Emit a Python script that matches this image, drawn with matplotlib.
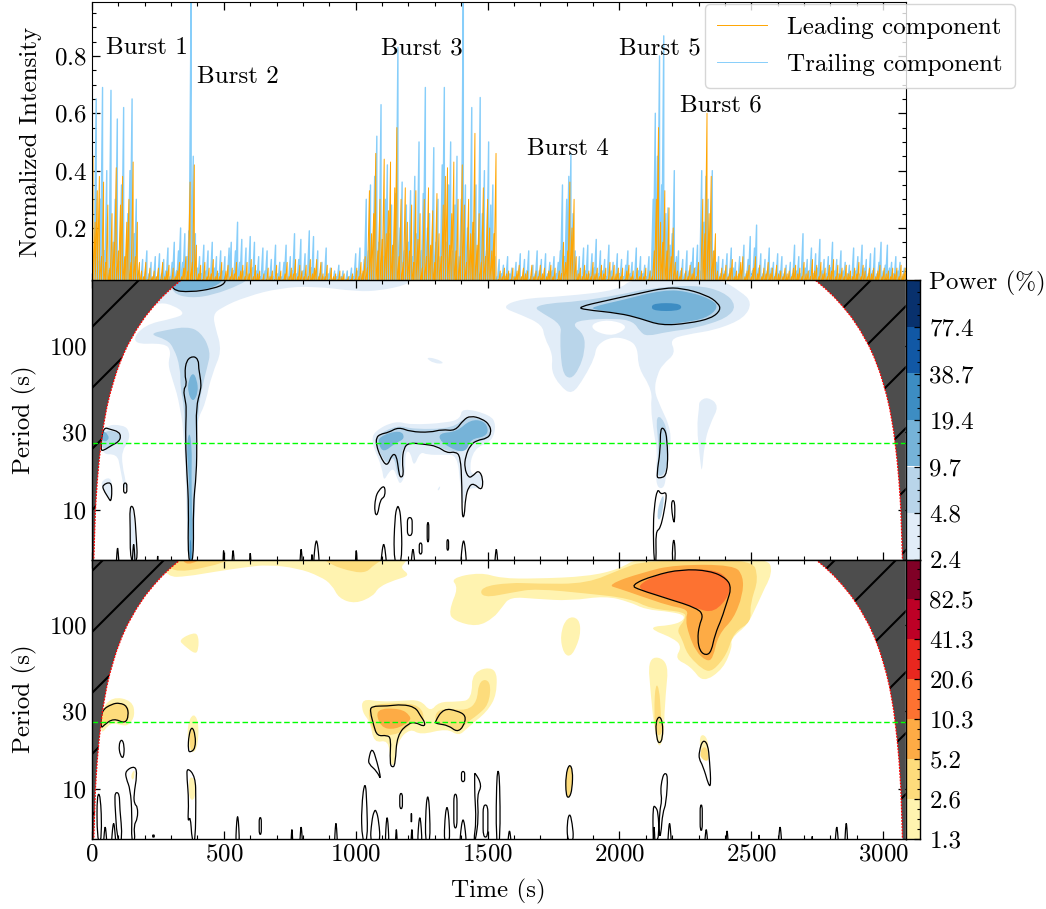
import numpy as np
import matplotlib
matplotlib.use("Agg")
import matplotlib.pyplot as plt
from matplotlib.lines import Line2D
from matplotlib.path import Path
from matplotlib.patches import PathPatch
from matplotlib.ticker import MultipleLocator, AutoMinorLocator, NullLocator

plt.rcParams["font.family"] = ["cmr10", "DejaVu Serif"]
plt.rcParams["axes.formatter.use_mathtext"] = True
plt.rcParams["font.size"] = 18
plt.rcParams["axes.unicode_minus"] = False

# light curves, one value every 8 s
trailing = [
    .65, .10, .65, .08, .30, .69, .12, .40, .05, .68,
    .15, .30, .58, .08, .35, .62, .10, .25, .40, .65,
    .18, .30, .05, .02, .09, .03, .12, .04, .08, .03,
    .10, .03, .11, .04, .09, .05, .13, .03, .08, .15,
    .05, .12, .20, .08, .18, .10, .19, 1.05, .45, .18,
    .06, .10, .04, .14, .05, .12, .03, .15, .06, .10,
    .04, .12, .05, .10, .03, .13, .15, .05, .12, .22,
    .08, .16, .05, .13, .04, .17, .06, .15, .05, .10,
    .03, .13, .05, .12, .03, .09, .03, .14, .04, .08,
    .03, .08, .14, .03, .10, .05, .18, .04, .09, .16,
    .05, .11, .04, .19, .06, .17, .05, .12, .04, .08,
    .03, .13, .04, .06, .02, .05, .03, .07, .03, .05,
    .02, .05, .03, .06, .03, .11, .05, .13, .04, .09,
    .30, .12, .35, .05, .38, .52, .15, .63, .10, .30,
    .42, .18, .28, .10, .32, .83, .20, .36, .12, .28,
    .15, .33, .10, .38, .18, .50, .12, .32, .69, .20,
    .25, .12, .48, .15, .30, .10, .42, .69, .15, .35,
    .50, .12, .28, .45, .10, .30, 1.05, .35, .20, .12,
    .62, .18, .35, .10, .655, .25, .40, .12, .50, .28,
    .35, .10, .03, .09, .04, .07, .03, .10, .04, .06,
    .03, .08, .04, .11, .03, .09, .05, .12, .03, .07,
    .04, .12, .05, .09, .03, .11, .04, .08, .05, .10,
    .04, .08, .12, .35, .10, .30, .38, .46, .25, .12,
    .05, .10, .03, .13, .05, .14, .04, .11, .06, .16,
    .04, .12, .05, .09, .03, .14, .05, .08, .03, .11,
    .04, .09, .03, .07, .12, .04, .08, .03, .13, .05,
    .10, .04, .07, .03, .10, .05, .30, .60, .45, .80,
    .35, .87, .25, .27, .14, .18, .40, .10, .12, .05,
    .09, .04, .12, .05, .08, .13, .06, .14, .05, .40,
    .22, .38, .30, .15, .40, .12, .08, .10, .04, .09,
    .05, .11, .04, .13, .06, .08, .03, .10, .05, .14,
    .04, .09, .17, .05, .13, .21, .06, .11, .04, .09,
    .05, .13, .06, .08, .04, .11, .05, .10, .04, .07,
    .03, .08, .04, .14, .05, .10, .04, .18, .06, .09,
    .05, .13, .04, .11, .06, .16, .05, .09, .04, .10,
    .06, .15, .05, .09, .04, .12, .05, .08, .04, .07,
    .03, .13, .05, .10, .04, .14, .06, .09, .04, .11,
    .05, .13, .04, .08, .15, .05, .07, .14, .06, .08,
    .04, .10, .05, .08, .03, .06,
]
leading = [
    .45, .22, .33, .38, .10, .36, .08, .28, .06, .25,
    .15, .41, .12, .28, .38, .10, .22, .30, .08, .43,
    .10, .22, .08, .05, .03, .08, .02, .06, .03, .05,
    .03, .06, .02, .08, .03, .05, .07, .02, .06, .03,
    .05, .08, .03, .06, .10, .05, .36, .08, .42, .14,
    .04, .07, .02, .08, .03, .06, .04, .09, .03, .05,
    .03, .08, .02, .05, .07, .03, .06, .04, .08, .03,
    .05, .07, .03, .08, .04, .09, .03, .07, .04, .05,
    .02, .04, .02, .06, .03, .05, .02, .07, .03, .05,
    .02, .04, .08, .03, .06, .04, .09, .03, .07, .05,
    .03, .07, .03, .09, .04, .06, .09, .03, .08, .04,
    .03, .07, .02, .06, .03, .04, .02, .05, .03, .04,
    .02, .03, .02, .04, .02, .06, .03, .08, .05, .10,
    .06, .33, .18, .25, .46, .12, .30, .16, .44, .18,
    .26, .43, .14, .34, .55, .10, .30, .08, .34, .22,
    .12, .28, .08, .33, .16, .25, .06, .30, .10, .34,
    .14, .26, .08, .32, .18, .10, .28, .38, .41, .14,
    .25, .43, .12, .30, .10, .42, .28, .08, .30, .18,
    .22, .53, .14, .25, .08, .34, .10, .30, .20, .12,
    .18, .46, .02, .05, .03, .06, .04, .05, .02, .06,
    .03, .05, .07, .03, .06, .04, .05, .02, .07, .03,
    .05, .03, .07, .04, .06, .03, .05, .07, .03, .06,
    .02, .05, .04, .15, .08, .12, .36, .20, .30, .10,
    .04, .06, .03, .07, .04, .05, .03, .08, .04, .06,
    .03, .07, .04, .06, .02, .08, .03, .07, .04, .06,
    .03, .06, .02, .05, .07, .03, .05, .02, .06, .03,
    .05, .03, .06, .02, .05, .03, .12, .30, .55, .22,
    .15, .33, .12, .27, .10, .20, .08, .05, .03, .06,
    .02, .05, .03, .07, .04, .06, .03, .08, .02, .30,
    .18, .60, .25, .38, .12, .18, .05, .03, .06, .04,
    .07, .03, .06, .09, .03, .05, .04, .08, .10, .03,
    .05, .07, .03, .06, .10, .04, .07, .03, .06, .04,
    .08, .04, .06, .03, .07, .04, .05, .03, .06, .04,
    .05, .03, .06, .07, .04, .06, .03, .08, .04, .05,
    .03, .09, .05, .07, .03, .08, .04, .06, .03, .07,
    .05, .09, .03, .07, .04, .06, .03, .07, .04, .05,
    .03, .06, .04, .08, .03, .07, .05, .03, .06, .04,
    .06, .03, .05, .07, .03, .06, .04, .05, .03, .06,
    .04, .06, .03, .07, .04, .06,
]

burst_names = ["Burst 1", "Burst 2", "Burst 3", "Burst 4", "Burst 5", "Burst 6"]
burst_t = [53, 398, 1096, 1650, 1998, 2230]
burst_y = [0.827, 0.727, 0.827, 0.477, 0.827, 0.627]

# cone of influence
coi_period = [250, 225, 200, 175, 150, 125, 100, 85, 70, 60, 50, 42, 35, 30, 25, 20, 15, 12, 10, 8, 6.5, 5]
coi_left = [336, 302, 268, 235, 201, 168, 134, 114, 94, 81, 67, 56, 47, 40, 34, 27, 20, 16, 13, 11, 9, 7]
coi_right = [2744, 2778, 2812, 2845, 2879, 2912, 2946, 2966, 2986, 2999, 3013, 3024, 3033, 3040, 3046, 3053,
             3060, 3064, 3067, 3069, 3071, 3073]
period_mark = 25.6

blue_levels = ["2.4", "4.8", "9.7", "19.4", "38.7", "77.4", "Power (%)"]
blue_colors = ["#e2edf8", "#b9d5ea", "#76b3d8", "#3d8dc3", "#1158a5", "#08316d"]
warm_levels = ["1.3", "2.6", "5.2", "10.3", "20.6", "41.3", "82.5", ""]
warm_colors = ["#fff3b0", "#fddc7c", "#fdab45", "#fd7231", "#e9271f", "#bd0026", "#800026"]

# power contours of the two wavelet panels, (time, period)
blue_1 = [
    [(246, 260), (1220, 260), (1194, 235), (1093, 217), (1005, 214), (841, 231), (714, 225), (588, 200), (487, 170),
     (459, 154), (468, 128), (493, 92), (455, 67), (430, 44), (398, 35), (398, 23.8), (392, 13), (388, 4.8),
     (363, 4.8), (358, 10.2), (350, 26), (335, 42), (307, 61), (287, 77), (300, 92), (278, 104), (145, 102),
     (196, 134), (310, 147), (354, 157), (310, 176), (259, 184), (221, 170)],
    [(44, 33), (120, 33), (143, 30), (139, 26), (114, 23), (114, 18.8), (133, 13.6), (120, 13.6), (107, 18),
     (95, 22), (32, 21.7)],
    [(32, 14.9), (70, 16), (78, 13.6), (72, 11.3), (44, 13)],
    [(1068, 30), (1150, 35), (1207, 33), (1346, 34), (1397, 36), (1403, 42), (1510, 38), (1533, 33), (1517, 26),
     (1447, 23.8), (1428, 16.3), (1479, 17), (1485, 13.6), (1416, 13.6), (1409, 10.2), (1397, 13.6), (1384, 21.7),
     (1333, 21.7), (1270, 21.7), (1245, 22.7), (1220, 18), (1207, 22.7), (1188, 22.7), (1188, 16.3), (1169, 14.2),
     (1157, 15.6), (1144, 18), (1125, 17), (1106, 14.9), (1100, 18), (1074, 22.7), (1062, 26)],
    [(1264, 85), (1302, 84), (1340, 78), (1296, 78)],
    [(1308, 13.2), (1321, 14.2), (1318, 13.2)],
    [(1550, 172), (1629, 194), (1788, 200), (1999, 218), (2052, 260), (2368, 260), (2461, 214), (2503, 183),
     (2474, 147), (2368, 125), (2250, 117), (2190, 109), (2214, 90), (2164, 77), (2144, 67), (2131, 53), (2157, 42),
     (2197, 30), (2190, 22.7), (2177, 16.3), (2170, 13.6), (2144, 13.6), (2137, 16.3), (2144, 22.7), (2131, 28.7),
     (2118, 42), (2125, 53), (2071, 73), (2069, 97), (2038, 109), (1972, 114), (1913, 101), (1906, 84), (1867, 64),
     (1821, 50), (1774, 57), (1741, 70), (1748, 88), (1715, 112), (1708, 134), (1629, 154)],
    [(2302, 46), (2335, 49), (2379, 43), (2342, 33), (2322, 25), (2313, 16.3), (2305, 20.6), (2293, 31.5), (2302, 42)],
    [(145, 10.2), (152, 10.6), (164, 7.7), (171, 4.8), (148, 4.8)],
]
blue_gap = [(1891, 136), (1959, 145), (2038, 132), (1979, 114), (1906, 122)]
blue_2 = [
    [(297, 260), (600, 260), (562, 235), (461, 204), (373, 195), (303, 209)],
    [(215, 118), (284, 125), (360, 131), (411, 122), (451, 92), (436, 73), (417, 55), (404, 42), (398, 26), (392, 16.3),
     (386, 4.8), (363, 4.8), (360, 16.3), (350, 28.7), (350, 42), (335, 55), (335, 73), (310, 97), (284, 109)],
    [(44, 31), (107, 29.5), (110, 27.3), (82, 24.4), (32, 23)],
    [(1074, 28), (1157, 33), (1220, 31), (1371, 31.5), (1416, 37), (1498, 35.5), (1517, 30), (1498, 26.6), (1435, 26),
     (1409, 22.7), (1346, 22.7), (1296, 25.5), (1182, 25.5), (1169, 19.7), (1169, 16.3), (1157, 16.3), (1144, 21.7),
     (1119, 18.5), (1081, 23.8)],
    [(1675, 172), (1735, 182), (1840, 186), (1999, 204), (2118, 225), (2289, 235), (2395, 214), (2445, 175), (2408, 147),
     (2289, 128), (2184, 122), (2104, 114), (2078, 122), (2052, 141), (1986, 147), (1854, 144), (1821, 134), (1867, 117),
     (1869, 92), (1847, 72), (1814, 62), (1781, 69), (1774, 112), (1781, 134), (1708, 158)],
    [(2137, 36), (2157, 37.5), (2184, 30), (2184, 17), (2137, 15.6), (2151, 22.7)],
    [(2157, 11.8), (2170, 12.4), (2164, 9.8), (2151, 8.5), (2141, 9.3)],
]
blue_3 = [
    [(316, 260), (512, 260), (461, 225), (373, 214), (303, 214)],
    [(383, 69), (398, 62), (403, 52), (383, 45), (363, 52), (366, 62)],
    [(38, 30.8), (63, 28.7), (63, 26.5), (38, 26)],
    [(369, 30.6), (379, 23.8), (377, 16.3), (379, 10.2), (383, 4.8), (367, 4.8), (370, 10.2), (367, 16.3), (358, 23.8)],
    [(1087, 28), (1169, 30.8), (1188, 27.3), (1150, 25.5), (1106, 22.4), (1087, 24.9)],
    [(1315, 29.4), (1384, 30), (1435, 35.5), (1485, 35), (1504, 31), (1492, 28), (1435, 27), (1422, 23), (1384, 22.7),
     (1321, 26)],
    [(1893, 172), (2012, 190), (2170, 220), (2263, 214), (2355, 190), (2375, 170), (2329, 147), (2236, 138), (2157, 134),
     (2078, 147), (1999, 158), (1906, 166)],
]
blue_4 = [
    [(2118, 172), (2135, 182), (2220, 182), (2239, 172), (2220, 163), (2135, 163)],
    [(373, 7.4), (379, 4.8), (369, 4.8)],
]
blue_lines = [
    [(300, 218), (373, 212), (461, 223), (508, 240), (502, 270), (300, 270)],
    [(385, 87), (358, 82), (351, 67), (360, 58), (346, 54), (354, 46), (358, 42), (354, 26), (360, 16.3), (367, 10.2),
     (363, 4.8), (386, 4.8), (383, 10.2), (396, 16.3), (398, 26), (394, 42), (413, 54), (413, 61), (404, 73), (404, 82)],
    [(42, 32), (70, 31), (101, 30), (110, 28), (101, 26), (76, 24.9), (44, 23), (32, 23.2)],
    [(39, 14.2), (72, 14.9), (76, 13), (72, 11.2), (63, 11.8), (44, 13.2)],
    [(143, 10.2), (152, 10.7), (161, 9.8), (168, 6.7), (173, 4.8), (145, 4.8), (145, 7.7)],
    [(1078, 27.6), (1093, 29), (1125, 29.7), (1163, 32), (1207, 30), (1283, 29.7), (1327, 31), (1378, 30.3), (1409, 35.5),
     (1435, 37.5), (1479, 36), (1508, 33), (1514, 29.4), (1498, 27.3), (1460, 26.6), (1435, 24.9), (1416, 21.2),
     (1412, 18), (1428, 15.6), (1447, 16.3), (1466, 17.5), (1483, 15.6), (1479, 13), (1447, 14.6), (1428, 13.9),
     (1416, 11.8), (1412, 9.1), (1403, 9.1), (1403, 13.6), (1397, 21.2), (1378, 22.7), (1346, 22.2), (1308, 24.5),
     (1258, 25.2), (1201, 25.7), (1182, 23.8), (1176, 19.7), (1182, 16.3), (1169, 15.7), (1163, 17.1), (1154, 21.7),
     (1138, 21.9), (1119, 18.2), (1093, 21.1), (1078, 24.9)],
    [(1110, 14.2), (1112, 12.1), (1093, 11.6), (1083, 9.2), (1071, 9.6), (1074, 11.8), (1087, 13.2)],
    [(1843, 172), (1946, 188), (2078, 209), (2170, 225), (2236, 225), (2329, 204), (2375, 182), (2384, 165), (2349, 147),
     (2263, 137), (2157, 133), (2078, 147), (1999, 158), (1867, 166)],
    [(2155, 31.5), (2170, 31.5), (2181, 27.3), (2184, 16.3), (2147, 15.5), (2141, 16.3), (2155, 22.7)],
    [(2144, 13.6), (2157, 12.4), (2181, 13), (2170, 9.8), (2155, 7.7), (2137, 7.4), (2140, 4.8), (2131, 4.8), (2128, 7.4),
     (2131, 10.2)],
    [(2199, 11.5), (2210, 11.3), (2210, 8.9), (2206, 8.2), (2197, 10.2)],
    [(2206, 7.2), (2214, 4.8), (2198, 4.8)],
]
# (time, top period, half width) and (time, high period, low period, half width)
blue_spikes = [(1160, 10.2, 12), (1106, 6, 8), (1217, 5.6, 6), (1409, 6.3, 8), (1533, 5.6, 5), (851, 6.3, 8),
               (793, 5.6, 4), (535, 5.5, 4), (600, 5.3, 3), (499, 5.5, 2), (1002, 5.5, 3), (834, 5.2, 3), (97, 5.7, 4),
               (158, 6, 4), (249, 5.1, 2)]
blue_ovals = [(126, 14.6, 12.7, 6), (1205, 9, 7, 9), (1274, 8.4, 6.4, 3), (1246, 6.3, 5.4, 5), (1349, 6.6, 5.7, 3)]

warm_1 = [
    [(246, 260), (1201, 260), (1188, 240), (1169, 222), (1207, 200), (1150, 188), (1087, 170), (1068, 150), (999, 134),
     (935, 145), (910, 175), (866, 197), (777, 222), (664, 232), (588, 225), (461, 210), (360, 197), (284, 195)],
    [(1359, 192), (1473, 209), (1550, 192), (1682, 191), (1880, 197), (1999, 218), (2078, 260), (2553, 260), (2586, 210),
     (2520, 130), (2487, 100), (2421, 82), (2428, 73), (2395, 54), (2316, 44), (2269, 56), (2210, 62), (2236, 73),
     (2210, 82), (2124, 93), (2131, 98), (2184, 99), (2236, 104), (2250, 114), (2197, 120), (2098, 124), (2038, 138),
     (1946, 150), (1814, 140), (1682, 144), (1586, 148), (1555, 128), (1523, 110), (1460, 97), (1371, 106), (1352, 120),
     (1390, 168)],
    [(1774, 86), (1801, 112), (1847, 110), (1854, 86), (1821, 64), (1788, 66)],
    [(2104, 65), (2190, 61), (2170, 30.3), (2170, 21.3), (2151, 17.5), (2137, 21.3), (2124, 29.5)],
    [(2302, 21.3), (2329, 21.3), (2342, 16.8), (2309, 15.3)],
    [(32, 29.4), (76, 36.6), (152, 34.6), (164, 28), (139, 24.4), (114, 24.4), (70, 25.5), (32, 21)],
    [(360, 24.4), (386, 29.4), (407, 24.4), (398, 16.8), (367, 16.8)],
    [(329, 81), (386, 90), (404, 86), (404, 71), (392, 66), (348, 75)],
    [(1024, 35.5), (1093, 34), (1176, 34.5), (1245, 35), (1283, 29.4), (1315, 34), (1384, 34), (1441, 35), (1441, 52),
     (1533, 56), (1536, 37.5), (1498, 29.4), (1422, 23.4), (1390, 21), (1346, 23.4), (1245, 21.3), (1207, 23.4),
     (1157, 19.4), (1150, 14), (1131, 14), (1125, 20), (1068, 19), (1055, 25.5), (1024, 29.4)],
    [(145, 12), (164, 13.4), (158, 11.1)],
    [(367, 12), (392, 11.5), (392, 8.6), (367, 8.6)],
]
warm_2 = [
    [(284, 260), (562, 260), (436, 222), (297, 208)],
    [(866, 260), (1125, 260), (1068, 232), (1043, 209), (992, 209), (904, 232)],
    [(1473, 170), (1586, 181), (1682, 178), (1880, 178), (2012, 220), (2091, 245), (2500, 255), (2529, 190), (2494, 131),
     (2500, 104), (2434, 90), (2408, 66), (2355, 52), (2316, 53), (2256, 66), (2236, 83), (2217, 93), (2250, 108),
     (2250, 120), (2118, 125), (2038, 145), (1880, 155), (1682, 166), (1599, 158), (1479, 145)],
    [(2137, 44), (2151, 41), (2157, 28), (2164, 21.3), (2137, 21.3), (2131, 29.4)],
    [(2305, 16.8), (2322, 18.4), (2338, 16.8), (2338, 14.6), (2309, 15.3)],
    [(1796, 12.1), (1810, 14.3), (1823, 13), (1821, 10), (1810, 8.8), (1797, 9.1)],
    [(32, 28), (57, 33.5), (133, 33.5), (145, 28), (126, 25), (76, 27), (32, 23.4)],
    [(1045, 32.5), (1157, 33.5), (1245, 32.5), (1264, 25.5), (1220, 26), (1194, 23.4), (1150, 21.3), (1081, 21.3),
     (1055, 24.4)],
    [(1302, 29.4), (1340, 31), (1422, 30), (1460, 34), (1466, 44), (1492, 47), (1513, 43), (1504, 32.5), (1460, 28),
     (1422, 25.5), (1390, 22), (1352, 24.4), (1302, 25)],
    [(370, 21.3), (379, 24), (392, 21.3), (392, 17.7), (373, 16.8)],
]
warm_3 = [
    [(1953, 175), (2091, 209), (2210, 232), (2434, 232), (2470, 197), (2467, 150), (2434, 109), (2375, 87), (2355, 62),
     (2329, 60), (2289, 69), (2263, 87), (2250, 108), (2263, 124), (2184, 131), (2078, 150), (1999, 166)],
    [(1074, 30.8), (1169, 31), (1207, 28), (1207, 25.8), (1150, 23), (1093, 23.7)],
    [(335, 260), (436, 260), (360, 228)],
]
warm_4 = [
    [(2071, 178), (2200, 218), (2360, 218), (2415, 190), (2420, 152), (2360, 118), (2289, 126), (2184, 146), (2085, 160)],
]
warm_lines = [
    [(2042, 174), (2131, 200), (2236, 218), (2342, 214), (2408, 191), (2424, 166), (2408, 138), (2388, 109), (2362, 87),
     (2349, 69), (2329, 65), (2305, 69), (2296, 81), (2302, 99), (2318, 114), (2296, 126), (2184, 144), (2078, 163)],
    [(2137, 25.5), (2151, 28), (2164, 25.5), (2164, 20.3), (2151, 18.8), (2141, 20.3)],
    [(2302, 16.8), (2316, 20), (2335, 18.8), (2342, 14.6), (2347, 10.5), (2338, 10.5), (2316, 13.9), (2302, 15.2)],
    [(1796, 12.1), (1810, 14.3), (1823, 13), (1821, 10), (1810, 8.8), (1797, 9.1)],
    [(1803, 4.8), (1801, 6.2), (1811, 7.2), (1821, 6.2), (1827, 4.8)],
    [(2127, 4.8), (2127, 7.9), (2137, 7.8), (2147, 7.2), (2150, 5.2), (2140, 4.8)],
    [(2150, 5.2), (2157, 5.2), (2164, 7.2), (2177, 8.1), (2184, 12.1), (2170, 12.6), (2160, 11.2), (2156, 9.7),
     (2161, 8.5), (2152, 7.3)],
    [(35, 30), (76, 33), (105, 33.5), (133, 32), (139, 28), (126, 25), (82, 27), (44, 24.4), (34, 23.4)],
    [(367, 21.3), (379, 24.2), (392, 21.3), (392, 17.7), (373, 16.7), (364, 17.2)],
    [(101, 18.4), (112, 20.3), (123, 18.4), (120, 15.3), (107, 16)],
    [(126, 12.9), (164, 13.9), (171, 12.1), (158, 9.1), (161, 8.1), (173, 7.8), (173, 6.6), (158, 6), (164, 4.8),
     (149, 4.8), (152, 6.9), (145, 10), (130, 11.5)],
    [(88, 9.6), (104, 9.4), (105, 7.6), (116, 4.8), (95, 4.8), (86, 8.4)],
    [(19, 9.3), (32, 9.3), (38, 4.8), (19, 4.8)],
    [(360, 13.6), (392, 11.9), (394, 8.4), (392, 4.8), (379, 4.8), (373, 6.9), (363, 6.2), (367, 8.4), (360, 11.6)],
    [(1058, 32), (1119, 32), (1176, 32.8), (1226, 31.5), (1245, 28), (1264, 25.2), (1258, 24), (1226, 25.5), (1201, 25.2),
     (1157, 21.3), (1150, 14), (1138, 13.5), (1129, 14.4), (1134, 20.3), (1119, 21.3), (1081, 21), (1068, 24.4),
     (1055, 29.4)],
    [(1299, 25.5), (1334, 31), (1384, 30), (1419, 28), (1409, 24), (1384, 22.2), (1352, 24.4), (1308, 25)],
    [(1049, 15.3), (1062, 18), (1081, 14.6), (1097, 11.2), (1081, 12.8), (1049, 14.2)],
    [(1024, 4.8), (1021, 7.6), (1036, 11.6), (1043, 7.6), (1045, 4.8)],
    [(1451, 12.1), (1451, 12.7), (1479, 10.5), (1460, 9.2), (1466, 6.6), (1454, 4.8), (1447, 4.8), (1457, 6.3),
     (1451, 9.2)],
]
warm_spikes = [(1583, 5.4, 6), (2190, 6, 5), (2131, 5.7, 3), (2329, 5.5, 5), (2408, 5.4, 4), (2529, 5.1, 3), (2609, 5.7, 5),
               (2824, 5.7, 5), (2860, 6, 4), (2731, 5, 2), (50, 5.7, 5), (82, 6, 6), (552, 6.6, 5), (793, 5.7, 4),
               (758, 5.5, 3), (925, 6, 4), (1074, 7.2, 14), (1119, 6.5, 5), (1154, 5.5, 3), (1273, 8.7, 7), (1243, 6.5, 6),
               (1213, 5.5, 3), (1346, 7.5, 8), (1407, 6.3, 9), (1540, 12.5, 6)]
warm_ovals = [(2310, 8, 5.6, 4), (638, 6.7, 5.3, 4), (233, 5.25, 5.1, 3), (1172, 9.4, 7.6, 5), (1211, 7.1, 6.3, 1),
              (1378, 9.3, 5.8, 6), (1407, 12.8, 11.1, 6), (1492, 8, 5.1, 9)]


def smooth_path(points):
    # closed outline, rounded with quadratic curves through the midpoints
    pts = np.array(points, dtype=float)
    mids = (pts + np.roll(pts, -1, axis=0)) / 2
    verts = [mids[-1]]
    codes = [Path.MOVETO]
    for p, m in zip(pts, mids):
        verts += [p, m]
        codes += [Path.CURVE3, Path.CURVE3]
    return Path(verts, codes)


def spike_outline(t, top, w):
    w = w * 1.4
    return [(t - w, 4.6), (t - 0.7 * w, top * 0.88), (t - 0.2 * w, top * 1.03), (t + 0.2 * w, top * 1.03),
            (t + 0.7 * w, top * 0.88), (t + w, 4.6)]


def oval_outline(t, high, low, w):
    mid = (high * low) ** 0.5
    return [(t - w, mid), (t - w, high), (t + w, high), (t + w, mid), (t + w, low), (t - w, low)]


def fill_blobs(ax, blobs, color, z):
    for blob in blobs:
        ax.add_patch(PathPatch(smooth_path(blob), facecolor=color, edgecolor="none", zorder=z))


def draw_lines(ax, blobs):
    for blob in blobs:
        ax.add_patch(PathPatch(smooth_path(blob), facecolor="none", edgecolor="black", lw=0.9, zorder=6))


def style_period_ax(ax):
    ax.set_yscale("log")
    ax.set_xlim(0, 3085)
    ax.set_ylim(5, 250)
    ax.set_yticks([10, 30, 100])
    ax.set_yticklabels(["10", "30", "100"])
    ax.yaxis.set_minor_locator(NullLocator())
    ax.xaxis.set_major_locator(MultipleLocator(500))
    ax.xaxis.set_minor_locator(MultipleLocator(100))
    ax.tick_params(which="both", direction="in", top=True, right=True)
    ax.tick_params(which="major", length=5.5, width=0.9)
    ax.tick_params(which="minor", length=3, width=0.8)
    ax.set_ylabel("Period (s)")
    ax.yaxis.set_label_coords(-0.0676, 0.5)
    for s in ax.spines.values():
        s.set_zorder(20)
        s.set_linewidth(1.0)


def draw_coi(ax):
    left_t = [0] + coi_left + [0]
    left_p = [270] + coi_period + [4.8]
    right_t = [3085] + coi_right + [3085]
    shapes = []
    for xs in (left_t, right_t):
        shapes.append(ax.fill(xs, left_p, color="#4d4d4d", lw=0, zorder=7)[0])
    for patch in shapes:
        for k in range(0, 40):
            c = 419 + 61 * k
            ln = Line2D([0, c / W], [1 - c / H, 1], transform=fig.transFigure, color="black", lw=1.5, zorder=8)
            ax.add_line(ln)
            ln.set_clip_path(patch)
    for xs in (coi_left, coi_right):
        ax.plot(xs, coi_period, color="red", ls=(0, (1.5, 1)), lw=0.9, zorder=9)
    ax.axhline(period_mark, color="lime", lw=1.0, dashes=(4, 2), zorder=10)


def draw_scale(cax, colors, labels):
    n = len(colors)
    for i, c in enumerate(colors):
        cax.axhspan(i, i + 1, color=c, lw=0)
    cax.set_ylim(0, n)
    cax.set_xlim(0, 1)
    cax.set_xticks([])
    cax.yaxis.tick_right()
    cax.set_yticks(range(n + 1))
    cax.set_yticklabels(labels)
    cax.yaxis.set_minor_locator(AutoMinorLocator(4))
    cax.tick_params(which="major", direction="in", length=4, width=0.9, pad=7, right=True)
    cax.tick_params(which="minor", direction="in", length=2.5, width=0.8, right=True)
    for s in cax.spines.values():
        s.set_linewidth(1.0)


def stems(t, values):
    # every sample runs down to the floor of the panel
    xs = np.repeat(t, 2)
    ys = np.zeros(len(xs))
    ys[::2] = values
    return xs, ys


W, H = 1046, 909
fig = plt.figure(figsize=(W / 100, H / 100), dpi=100)
x0, wd, hg = 92 / W, 813.6 / W, 279 / H
ax1 = fig.add_axes([x0, 1 - 281 / H, wd, hg])
ax2 = fig.add_axes([x0, 1 - 559.5 / H, wd, hg])
ax3 = fig.add_axes([x0, 1 - 838.5 / H, wd, hg])
cax2 = fig.add_axes([905.6 / W, 1 - 559.5 / H, 14 / W, hg])
cax3 = fig.add_axes([905.6 / W, 1 - 838.5 / H, 14 / W, hg])

# light curves
t_trail = np.arange(len(trailing)) * 8
t_lead = np.arange(len(leading)) * 8 + 4
l_trail, = ax1.plot(*stems(t_trail, trailing), color="#87cefa", lw=1.0, label="Trailing component")
l_lead, = ax1.plot(*stems(t_lead, leading), color="orange", lw=0.7, label="Leading component")
ax1.set_xlim(0, 3085)
ax1.set_ylim(0.015, 0.988)
ax1.set_yticks([0.2, 0.4, 0.6, 0.8])
ax1.yaxis.set_minor_locator(MultipleLocator(0.05))
ax1.xaxis.set_major_locator(MultipleLocator(500))
ax1.xaxis.set_minor_locator(MultipleLocator(100))
ax1.tick_params(which="both", direction="in", top=True, right=True, labelbottom=False)
ax1.tick_params(which="major", length=5.5, width=0.9)
ax1.tick_params(which="minor", length=3, width=0.8)
ax1.set_ylabel("Normalized Intensity")
ax1.yaxis.set_label_coords(-0.0615, 0.5)
for name, tb, yb in zip(burst_names, burst_t, burst_y):
    ax1.text(tb, yb, name, va="center", ha="left", zorder=5)
leg = fig.legend(handles=[l_lead, l_trail], loc="upper right", bbox_to_anchor=(1015 / W, 1 - 4 / H),
                 bbox_transform=fig.transFigure, handlelength=2.0, framealpha=0.8, edgecolor="#cccccc",
                 borderaxespad=0, handletextpad=0.8, labelspacing=0.56, borderpad=0.5)
for ln in leg.get_lines():
    ln.set_linewidth(0.7)

# trailing component wavelet
fill_blobs(ax2, blue_1, blue_colors[0], 1)
fill_blobs(ax2, [blue_gap], "white", 1.5)
fill_blobs(ax2, blue_2, blue_colors[1], 2)
fill_blobs(ax2, blue_3, blue_colors[2], 3)
fill_blobs(ax2, blue_4, blue_colors[3], 4)
draw_lines(ax2, blue_lines)
draw_lines(ax2, [spike_outline(*s) for s in blue_spikes])
draw_lines(ax2, [oval_outline(*o) for o in blue_ovals])
style_period_ax(ax2)
ax2.tick_params(labelbottom=False)
draw_coi(ax2)
draw_scale(cax2, blue_colors, blue_levels)

# leading component wavelet
fill_blobs(ax3, warm_1, warm_colors[0], 1)
fill_blobs(ax3, warm_2, warm_colors[1], 2)
fill_blobs(ax3, warm_3, warm_colors[2], 3)
fill_blobs(ax3, warm_4, warm_colors[3], 4)
draw_lines(ax3, warm_lines)
draw_lines(ax3, [spike_outline(*s) for s in warm_spikes])
draw_lines(ax3, [oval_outline(*o) for o in warm_ovals])
style_period_ax(ax3)
ax3.set_xlabel("Time (s)", labelpad=9.5)
draw_coi(ax3)
draw_scale(cax3, warm_colors, warm_levels)

fig.savefig("out.png", dpi=100)
